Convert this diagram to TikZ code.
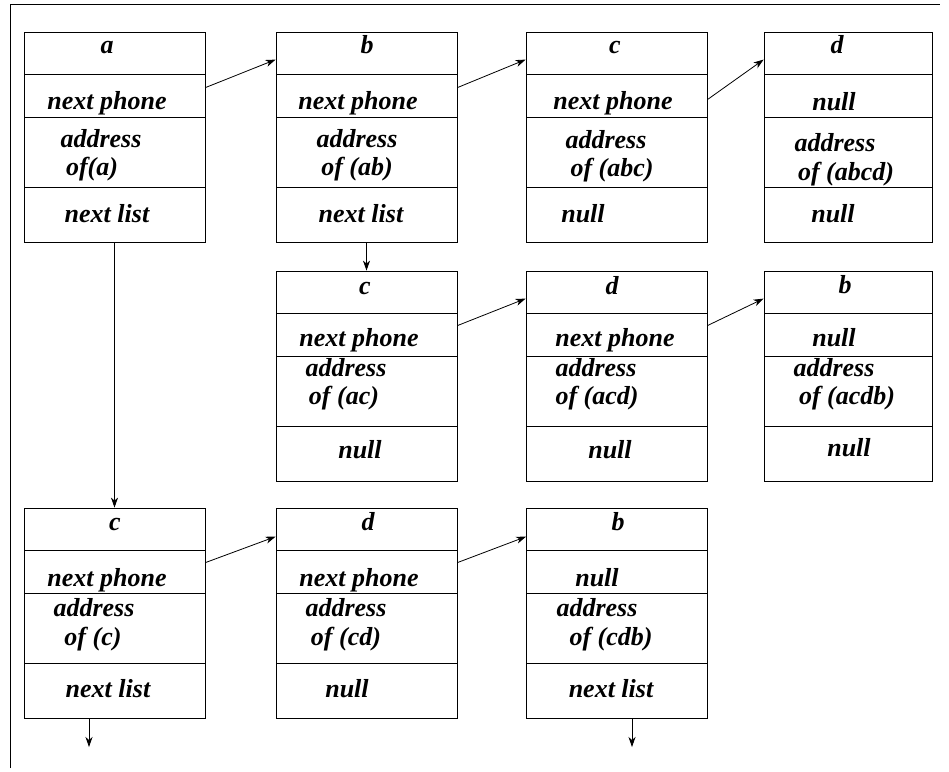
\documentclass[tikz,border=0pt]{standalone}
\usepackage{fontspec}
\setmainfont{Liberation Serif}
\usetikzlibrary{arrows.meta}

\tikzset{
  listbox/.style={draw, line width=0.8pt, minimum width=181pt, minimum height=210pt, inner sep=0pt,
    path picture={
      \draw[line width=0.8pt] ([yshift=-42pt]path picture bounding box.north west) -- ([yshift=-42pt]path picture bounding box.north east);
      \draw[line width=0.8pt] ([yshift=-85pt]path picture bounding box.north west) -- ([yshift=-85pt]path picture bounding box.north east);
      \draw[line width=0.8pt] ([yshift=-155pt]path picture bounding box.north west) -- ([yshift=-155pt]path picture bounding box.north east);
    }},
  narrowbox/.style={listbox, minimum width=168pt},
  field/.style={anchor=base, inner sep=0pt, font=\fontsize{26}{31}\selectfont\bfseries\itshape},
  link/.style={line width=0.8pt, -{Stealth[length=10pt,width=7pt,inset=3pt]}},
}

\begin{document}
\begin{tikzpicture}[x=1pt, y=-1pt]
  \useasboundingbox (0,0) rectangle (949,771);
  % frame of the scan
  \draw[line width=0.8pt] (10,768) -- (10,4) -- (940,4);

  % first list
  \node[listbox] (a) at (114.5,137) {};
  \node[listbox] (ab) at (366.5,137) {};
  \node[listbox] (abc) at (616.5,137) {};
  \node[narrowbox] (abcd) at (848,137) {};

  \node[field] (a-t) at (107,53) {a};
  \node[field] (a-p) at (107,109) {next phone};
  \node[field] (a-ad) at (101,147) {address};
  \node[field] (a-of) at (92,175) {of(a)};
  \node[field] (a-l) at (107,222) {next list};

  \node[field] (ab-t) at (367,53) {b};
  \node[field] (ab-p) at (358,109) {next phone};
  \node[field] (ab-ad) at (357,147) {address};
  \node[field] (ab-of) at (357,175) {of (ab)};
  \node[field] (ab-l) at (361,222) {next list};

  \node[field] (abc-t) at (615,53) {c};
  \node[field] (abc-p) at (613,109) {next phone};
  \node[field] (abc-ad) at (606,148) {address};
  \node[field] (abc-of) at (612,176) {of (abc)};
  \node[field] (abc-l) at (583,222) {null};

  \node[field] (abcd-t) at (837,53) {d};
  \node[field] (abcd-p) at (834,110) {null};
  \node[field] (abcd-ad) at (835,151) {address};
  \node[field] (abcd-of) at (846,180) {of (abcd)};
  \node[field] (abcd-l) at (833,222) {null};

  % second list
  \node[listbox] (ac) at (366.5,376) {};
  \node[listbox] (acd) at (616.5,376) {};
  \node[narrowbox] (acdb) at (848,376) {};

  \node[field] (ac-t) at (365,294) {c};
  \node[field] (ac-p) at (359,346) {next phone};
  \node[field] (ac-ad) at (346,376) {address};
  \node[field] (ac-of) at (344,404) {of (ac)};
  \node[field] (ac-l) at (360,458) {null};

  \node[field] (acd-t) at (612,294) {d};
  \node[field] (acd-p) at (615,346) {next phone};
  \node[field] (acd-ad) at (596,376) {address};
  \node[field] (acd-of) at (597,404) {of (acd)};
  \node[field] (acd-l) at (610,458) {null};

  \node[field] (acdb-t) at (845,293) {b};
  \node[field] (acdb-p) at (834,346) {null};
  \node[field] (acdb-ad) at (834,376) {address};
  \node[field] (acdb-of) at (847,404) {of (acdb)};
  \node[field] (acdb-l) at (849,456) {null};

  % third list
  \node[listbox] (c) at (114.5,613) {};
  \node[listbox] (cd) at (366.5,613) {};
  \node[listbox] (cdb) at (617,613) {};

  \node[field] (c-t) at (115,530) {c};
  \node[field] (c-p) at (107,586) {next phone};
  \node[field] (c-ad) at (94,616) {address};
  \node[field] (c-of) at (93,645) {of (c)};
  \node[field] (c-l) at (108,697) {next list};

  \node[field] (cd-t) at (368,530) {d};
  \node[field] (cd-p) at (359,586) {next phone};
  \node[field] (cd-ad) at (346,616) {address};
  \node[field] (cd-of) at (346,645) {of (cd)};
  \node[field] (cd-l) at (347,697) {null};

  \node[field] (cdb-t) at (618,530) {b};
  \node[field] (cdb-p) at (597,586) {null};
  \node[field] (cdb-ad) at (597,616) {address};
  \node[field] (cdb-of) at (611,645) {of (cdb)};
  \node[field] (cdb-l) at (611,697) {next list};

  \coordinate (c-out) at (89,747);
  \coordinate (cdb-out) at (632,747);

  % next phone links
  \draw[link] ([yshift=-56pt]a.north east) -- ([yshift=-28pt]ab.north west);
  \draw[link] ([yshift=-56pt]ab.north east) -- ([yshift=-28pt]abc.north west);
  \draw[link] ([yshift=-68pt]abc.north east) -- ([yshift=-28pt]abcd.north west);
  \draw[link] ([yshift=-55pt]ac.north east) -- ([yshift=-28pt]acd.north west);
  \draw[link] ([yshift=-55pt]acd.north east) -- ([yshift=-28pt]acdb.north west);
  \draw[link] ([yshift=-55pt]c.north east) -- ([yshift=-29pt]cd.north west);
  \draw[link] ([yshift=-55pt]cd.north east) -- ([yshift=-29pt]cdb.north west);

  % next list links
  \draw[link] (a.south) -- (c.north);
  \draw[link] (ab.south) -- (ac.north);
  \draw[link] (c.south -| c-out) -- (c-out);
  \draw[link] (cdb.south -| cdb-out) -- (cdb-out);
\end{tikzpicture}
\end{document}
